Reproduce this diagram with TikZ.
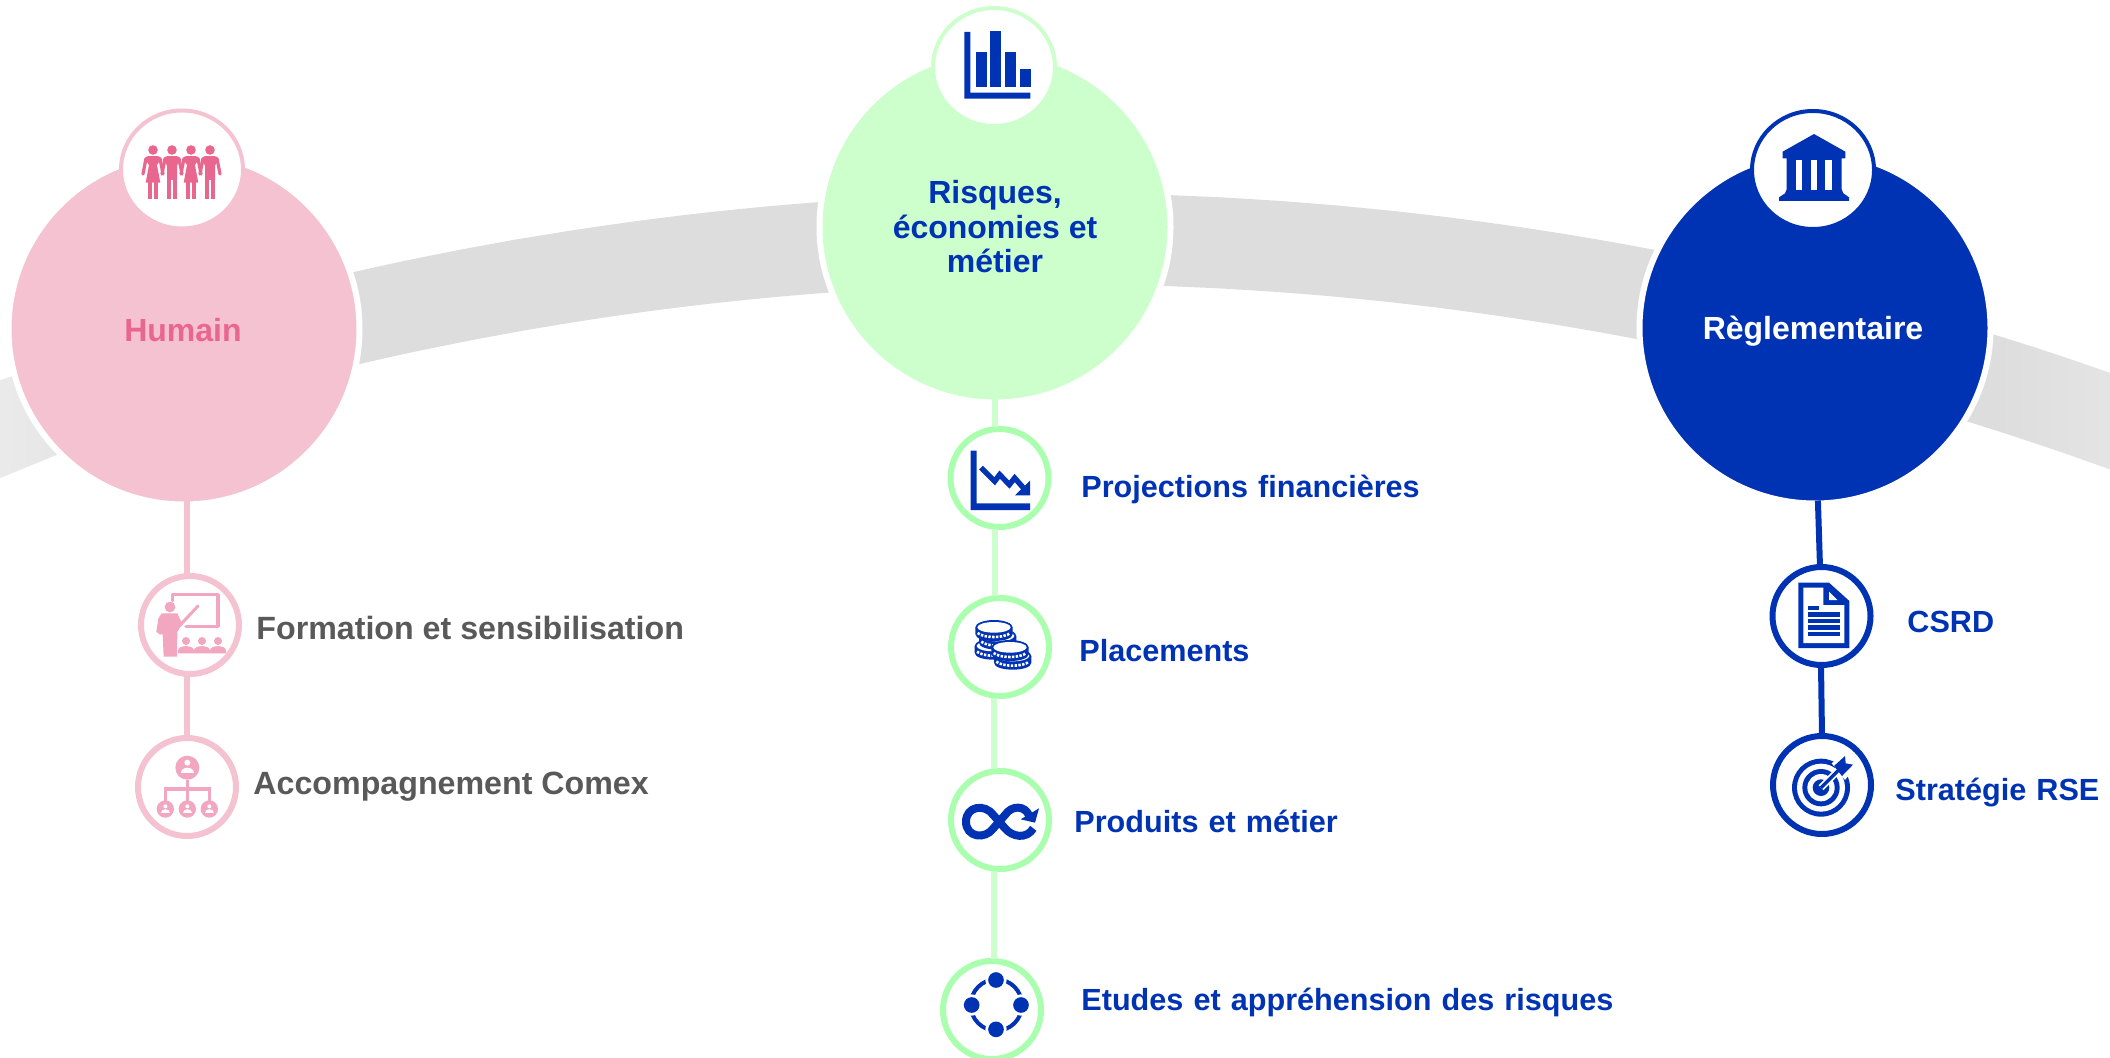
\documentclass[tikz,border=0pt]{standalone}
\usepackage{fontspec}
\usetikzlibrary{shapes.geometric}
\setmainfont{Liberation Sans}
\newfontfamily\widefont[WordSpace=1.19]{Liberation Sans}
\definecolor{pinkbig}{HTML}{F5C2D2}
\definecolor{pinktxt}{HTML}{E9668F}
\definecolor{pinkicon}{HTML}{F2A6C0}
\definecolor{greenbig}{HTML}{CCFFCC}
\definecolor{greenring}{HTML}{A9FFAD}
\definecolor{bluemain}{HTML}{0033B4}
\definecolor{graytxt}{HTML}{595959}
\pgfdeclarehorizontalshading{bandgrad}{100bp}{
  color(0bp)=(black!13.5);
  color(70.4bp)=(black!13.5);
  color(73.5bp)=(black!10.5);
  color(100bp)=(black!9)}
\tikzset{
  zoomed/.style 2 args={shift={(#1,#2)},x=.16667pt,y=-.16667pt},
  bigdisc/.style={circle,minimum size=175.5pt,inner sep=0pt,outer sep=0pt,line width=3pt,draw=white},
  topdisc/.style={ellipse,minimum width=61pt,minimum height=59pt,inner sep=0pt,outer sep=0pt,line width=2pt,fill=white},
  smalldisc/.style={circle,minimum size=49pt,inner sep=0pt,outer sep=0pt,line width=3pt,fill=white},
  link/.style={line width=3pt,shorten <=-1.5pt,shorten >=1.2pt},
  sublink/.style={line width=3pt,shorten <=1.2pt,shorten >=1.2pt},
  titletxt/.style={font=\fontsize{16}{17.25}\selectfont\bfseries,align=center,inner sep=0pt},
  pinklabel/.style={font=\fontsize{16.1}{18}\selectfont\bfseries,text=graytxt,anchor=mid west,inner sep=0pt},
  bluelabel/.style={font=\widefont\fontsize{15.3}{18}\selectfont\bfseries,text=bluemain,anchor=mid west,inner sep=0pt},
}
\newcommand\armsfig{
  \draw[line width=1.6pt,line cap=round] (-7,8.5) -- (-10,24);
  \draw[line width=1.6pt,line cap=round] (7,8.5) -- (10,24);}
\newcommand\personF[1]{\begin{scope}[shift={(#1,150)}]
  \fill (0,0) circle[radius=4.8];
  \fill (-5,6.2) -- (5,6.2) .. controls (7,6.4) and (7.5,7.5) .. (8,9) -- (4,15) -- (7.3,32.7) -- (-7.3,32.7) -- (-4,15) -- (-8,9) .. controls (-7.5,7.5) and (-7,6.4) .. (-5,6.2) -- cycle;
  \fill (-4.7,31) rectangle (-.7,49);
  \fill (1,31) rectangle (5,49);
  \armsfig
\end{scope}}
\newcommand\personM[1]{\begin{scope}[shift={(#1,150)}]
  \fill (0,0) circle[radius=4.8];
  \fill (-5,6.2) -- (5,6.2) .. controls (7,6.4) and (7.5,7.5) .. (8,9) -- (5,16) -- (5,30) -- (-5,30) -- (-5,16) -- (-8,9) .. controls (-7.5,7.5) and (-7,6.4) .. (-5,6.2) -- cycle;
  \fill (-4.7,28) rectangle (-.7,49);
  \fill (1,28) rectangle (5,49);
  \armsfig
\end{scope}}
\newcommand\audience[1]{\begin{scope}[shift={(#1,0)}]
  \fill (0,243) circle[radius=12];
  \fill (-24,280) -- (-24,272) .. controls (-24,254) and (24,254) .. (24,272) -- (24,280) -- cycle;
\end{scope}}
\newcommand\orgsmall[1]{\begin{scope}[shift={(#1,0)}]
  \fill (0,747) circle[radius=26];
  \fill[white] (0,739) circle[radius=6];
  \fill[white] (-13,758) .. controls (-13,744) and (13,744) .. (13,758) -- cycle;
\end{scope}}
\newcommand\onecoin[2]{\begin{scope}[shift={(#1,#2)}]
  \fill (-56,0) -- (-56,20) .. controls (-56,48) and (56,48) .. (56,20) -- (56,0) -- cycle;
  \fill (0,0) ellipse[x radius=56,y radius=22];
  \fill[white] (0,0) ellipse[x radius=50,y radius=16];
  \draw[white,line width=1.3pt,dash pattern=on 1.2pt off .7pt] (-49,17) .. controls (-30,33) and (30,33) .. (49,17);
\end{scope}}
\begin{document}
\begin{tikzpicture}[x=.5pt,y=-.5pt]
\useasboundingbox (0,0) rectangle (2110,1058);
% grey band
\shade[left color=black!8,right color=black!10] (-6,382) -- (70,358) -- (70,449.5) -- (-6,480.5) -- cycle;
\shade[shading=bandgrad] plot[domain=-15:20.5,samples=70] ({1057+3175*sin(\x)},{3368-3175*cos(\x)})
  -- plot[domain=20.5:-15,samples=70] ({1057+3084*sin(\x)},{3368-3084*cos(\x)}) -- cycle;
% main discs
\node[bigdisc,fill=pinkbig] (humain) at (184,329) {};
\node[bigdisc,fill=greenbig] (risques) at (995,227) {};
\node[bigdisc,fill=bluemain] (regl) at (1815,328) {};
\node[titletxt,text=pinktxt] (humaintxt) at (183,330) {Humain};
\node[titletxt,text=bluemain] (risquestxt) at (995,227) {Risques,\\économies et\\métier};
\node[titletxt,text=white] (regltxt) at (1813,331) {Règlementaire};
% icon discs
\node[topdisc,draw=pinkbig] (humainicon) at (182,169.5) {};
\node[topdisc,draw=greenbig] (risquesicon) at (994,67) {};
\node[topdisc,draw=bluemain] (reglicon) at (1813,170) {};
% sub discs
\node[smalldisc,draw=pinkbig] (form) at (190,625) {};
\node[smalldisc,draw=pinkbig] (acc) at (187,787) {};
\node[smalldisc,draw=greenring] (proj) at (999.5,478) {};
\node[smalldisc,draw=greenring] (plac) at (1000,647) {};
\node[smalldisc,draw=greenring] (prod) at (1000,820) {};
\node[smalldisc,draw=greenring] (etud) at (992,1010) {};
\node[smalldisc,draw=bluemain] (csrd) at (1821.5,616) {};
\node[smalldisc,draw=bluemain] (strat) at (1822,785) {};
% connectors
\draw[link,pinkbig] ([xshift=1.5pt]humain.south) -- ([xshift=1.5pt]humain.south |- form.north);
\draw[sublink,pinkbig] (acc.north |- form.south) -- (acc.north);
\draw[link,greenbig] (risques.south) -- (risques.south |- proj.north);
\draw[sublink,greenbig] (risques.south |- proj.south) -- (risques.south |- plac.north);
\draw[sublink,greenbig] ([xshift=-.5pt]risques.south |- plac.south) -- ([xshift=-.5pt]risques.south |- prod.north);
\draw[sublink,greenbig] ([xshift=-.5pt]risques.south |- prod.south) -- ([xshift=-.5pt]risques.south |- etud.north);
\draw[link,bluemain] ([xshift=1.5pt]regl.south) -- ([xshift=-.75pt]csrd.north);
\draw[sublink,bluemain] ([xshift=-.25pt]csrd.south) -- (strat.north);
% labels
\node[pinklabel] (formtxt) at (256,634.5) {Formation et sensibilisation};
\node[pinklabel] (acctxt) at (253,789.5) {Accompagnement Comex};
\node[bluelabel] (projtxt) at (1081,492.5) {Projections financières};
\node[bluelabel] (plactxt) at (1079,656.5) {Placements};
\node[bluelabel] (prodtxt) at (1074,827.5) {Produits et métier};
\node[bluelabel] (etudtxt) at (1081,1005.5) {Etudes et appréhension des risques};
\node[bluelabel] (csrdtxt) at (1907,627.5) {CSRD};
\node[bluelabel] (strattxt) at (1895,795.5) {Stratégie RSE};
% icon: people
\begin{scope}[pinktxt,fill=pinktxt,draw=pinktxt]
  \personF{153}\personM{172}\personF{191}\personM{210}
\end{scope}
% icon: presenter
\begin{scope}[zoomed={120}{560},fill=pinkicon,draw=pinkicon]
  \draw[line width=1.7pt,line join=round,line cap=round] (157,122) -- (157,104) -- (294,104) -- (294,199) -- (198,199);
  \fill (150,141) circle[radius=16];
  \fill (125,160) -- (172,160) -- (186,190) -- (172,216) -- (171,290) -- (131,290) -- (128,222) -- (120,224) -- (109,215) -- (115,176) -- cycle;
  \draw[line width=1.5pt,line cap=round] (176,200) -- (234,138);
  \audience{198}\audience{246}\audience{294}
\end{scope}
% icon: organisation
\begin{scope}[zoomed={120}{560},fill=pinkicon,draw=pinkicon]
  \fill (202,623) circle[radius=36];
  \fill[white] (202,608) circle[radius=9];
  \fill[white] (182,639) .. controls (182,618) and (222,618) .. (222,639) -- cycle;
  \draw[line width=1.6pt] (202,660) -- (202,725);
  \draw[line width=1.6pt] (136,725) -- (136,687) -- (268,687) -- (268,725);
  \orgsmall{136}\orgsmall{202}\orgsmall{268}
\end{scope}
% icon: bars
\begin{scope}[zoomed={910}{0},fill=bluemain]
  \fill (163,96) -- (181,96) -- (181,278) -- (361,278) -- (361,296) -- (163,296) -- cycle;
  \fill (198,156) rectangle (231,261);
  \fill (240,93) rectangle (273,261);
  \fill (285,156) rectangle (318,261);
  \fill (330,207) rectangle (363,261);
\end{scope}
% icon: trend
\begin{scope}[zoomed={930}{420},fill=bluemain,draw=bluemain]
  \fill (122,92) -- (140,92) -- (140,250) -- (300,250) -- (300,270) -- (122,270) -- cycle;
  \draw[line width=2.7pt,line join=miter] (153,143) -- (194,184) -- (209,164) -- (238,194) -- (254,174) -- (284,208);
  \fill (300,182) -- (300,226) -- (255,226) -- cycle;
\end{scope}
% icon: coins
\begin{scope}[zoomed={930}{420},fill=bluemain,draw=bluemain]
  \onecoin{190}{678}\onecoin{203}{648}\onecoin{192}{622}
  \onecoin{248}{708}\onecoin{240}{682}
\end{scope}
% icon: infinity
\begin{scope}[zoomed={930}{760},fill=bluemain,draw=bluemain]
  \draw[line width=4pt] (310,205) .. controls (290,238) and (248,232) .. (225,205) -- (190,165) .. controls (165,130) and (108,138) .. (108,185) .. controls (108,232) and (165,240) .. (190,205) -- (225,165) .. controls (245,135) and (285,135) .. (298,168);
  \fill (327,145) -- (315,188) -- (272,178) -- cycle;
\end{scope}
% icon: network
\begin{scope}[zoomed={930}{760},fill=bluemain,draw=bluemain]
  \draw[line width=2pt] (199,735) circle[radius=77];
  \fill[white] (198,660) circle[radius=32];
  \fill[white] (125,735) circle[radius=32];
  \fill[white] (273,735) circle[radius=32];
  \fill[white] (198,808) circle[radius=32];
  \fill (198,660) circle[radius=23.5];
  \fill (125,735) circle[radius=23.5];
  \fill (273,735) circle[radius=23.5];
  \fill (198,808) circle[radius=23.5];
\end{scope}
% icon: bank
\begin{scope}[zoomed={1740}{100},fill=bluemain]
  \fill (222,102) -- (316,155) -- (316,175) -- (305,175) -- (305,268) -- (310,280) -- (327,292) -- (327,303) -- (117,303) -- (117,292) -- (135,280) -- (140,268) -- (140,175) -- (128,175) -- (128,155) -- cycle;
  \fill[white] (169,180) rectangle (187,270);
  \fill[white] (213,180) rectangle (231,270);
  \fill[white] (256,180) rectangle (275,270);
\end{scope}
% icon: document
\begin{scope}[zoomed={1750}{550},fill=bluemain]
  \fill (145,98) -- (237,98) -- (298,153) -- (298,294) -- (145,294) -- cycle;
  \fill[white] (160,113) -- (220,113) -- (220,165) -- (283,165) -- (283,279) -- (160,279) -- cycle;
  \fill[white] (237,125) -- (237,150) -- (262,150) -- cycle;
  \fill (173,168) rectangle (207,180);
  \fill (173,187) rectangle (269,202);
  \fill (173,206) rectangle (269,220);
  \fill (173,225) rectangle (269,239);
  \fill (173,245) rectangle (269,258);
\end{scope}
% icon: target
\begin{scope}[zoomed={1750}{550},fill=bluemain,draw=bluemain]
  \fill (213,713) circle[radius=87];
  \fill[white] (213,713) circle[radius=72];
  \fill (213,713) circle[radius=56];
  \fill[white] (213,713) circle[radius=41];
  \fill (213,713) circle[radius=25];
  \draw[white,line width=3.4pt] (213,713) -- (285,641);
  \fill[white] (245,640) -- (285,605) -- (320,645) -- (285,690) -- cycle;
  \draw[line width=1.7pt] (213,713) -- (270,656);
  \fill (252,648) -- (285,618) -- (287,640) -- (309,644) -- (276,678) -- cycle;
\end{scope}
\end{tikzpicture}
\end{document}
